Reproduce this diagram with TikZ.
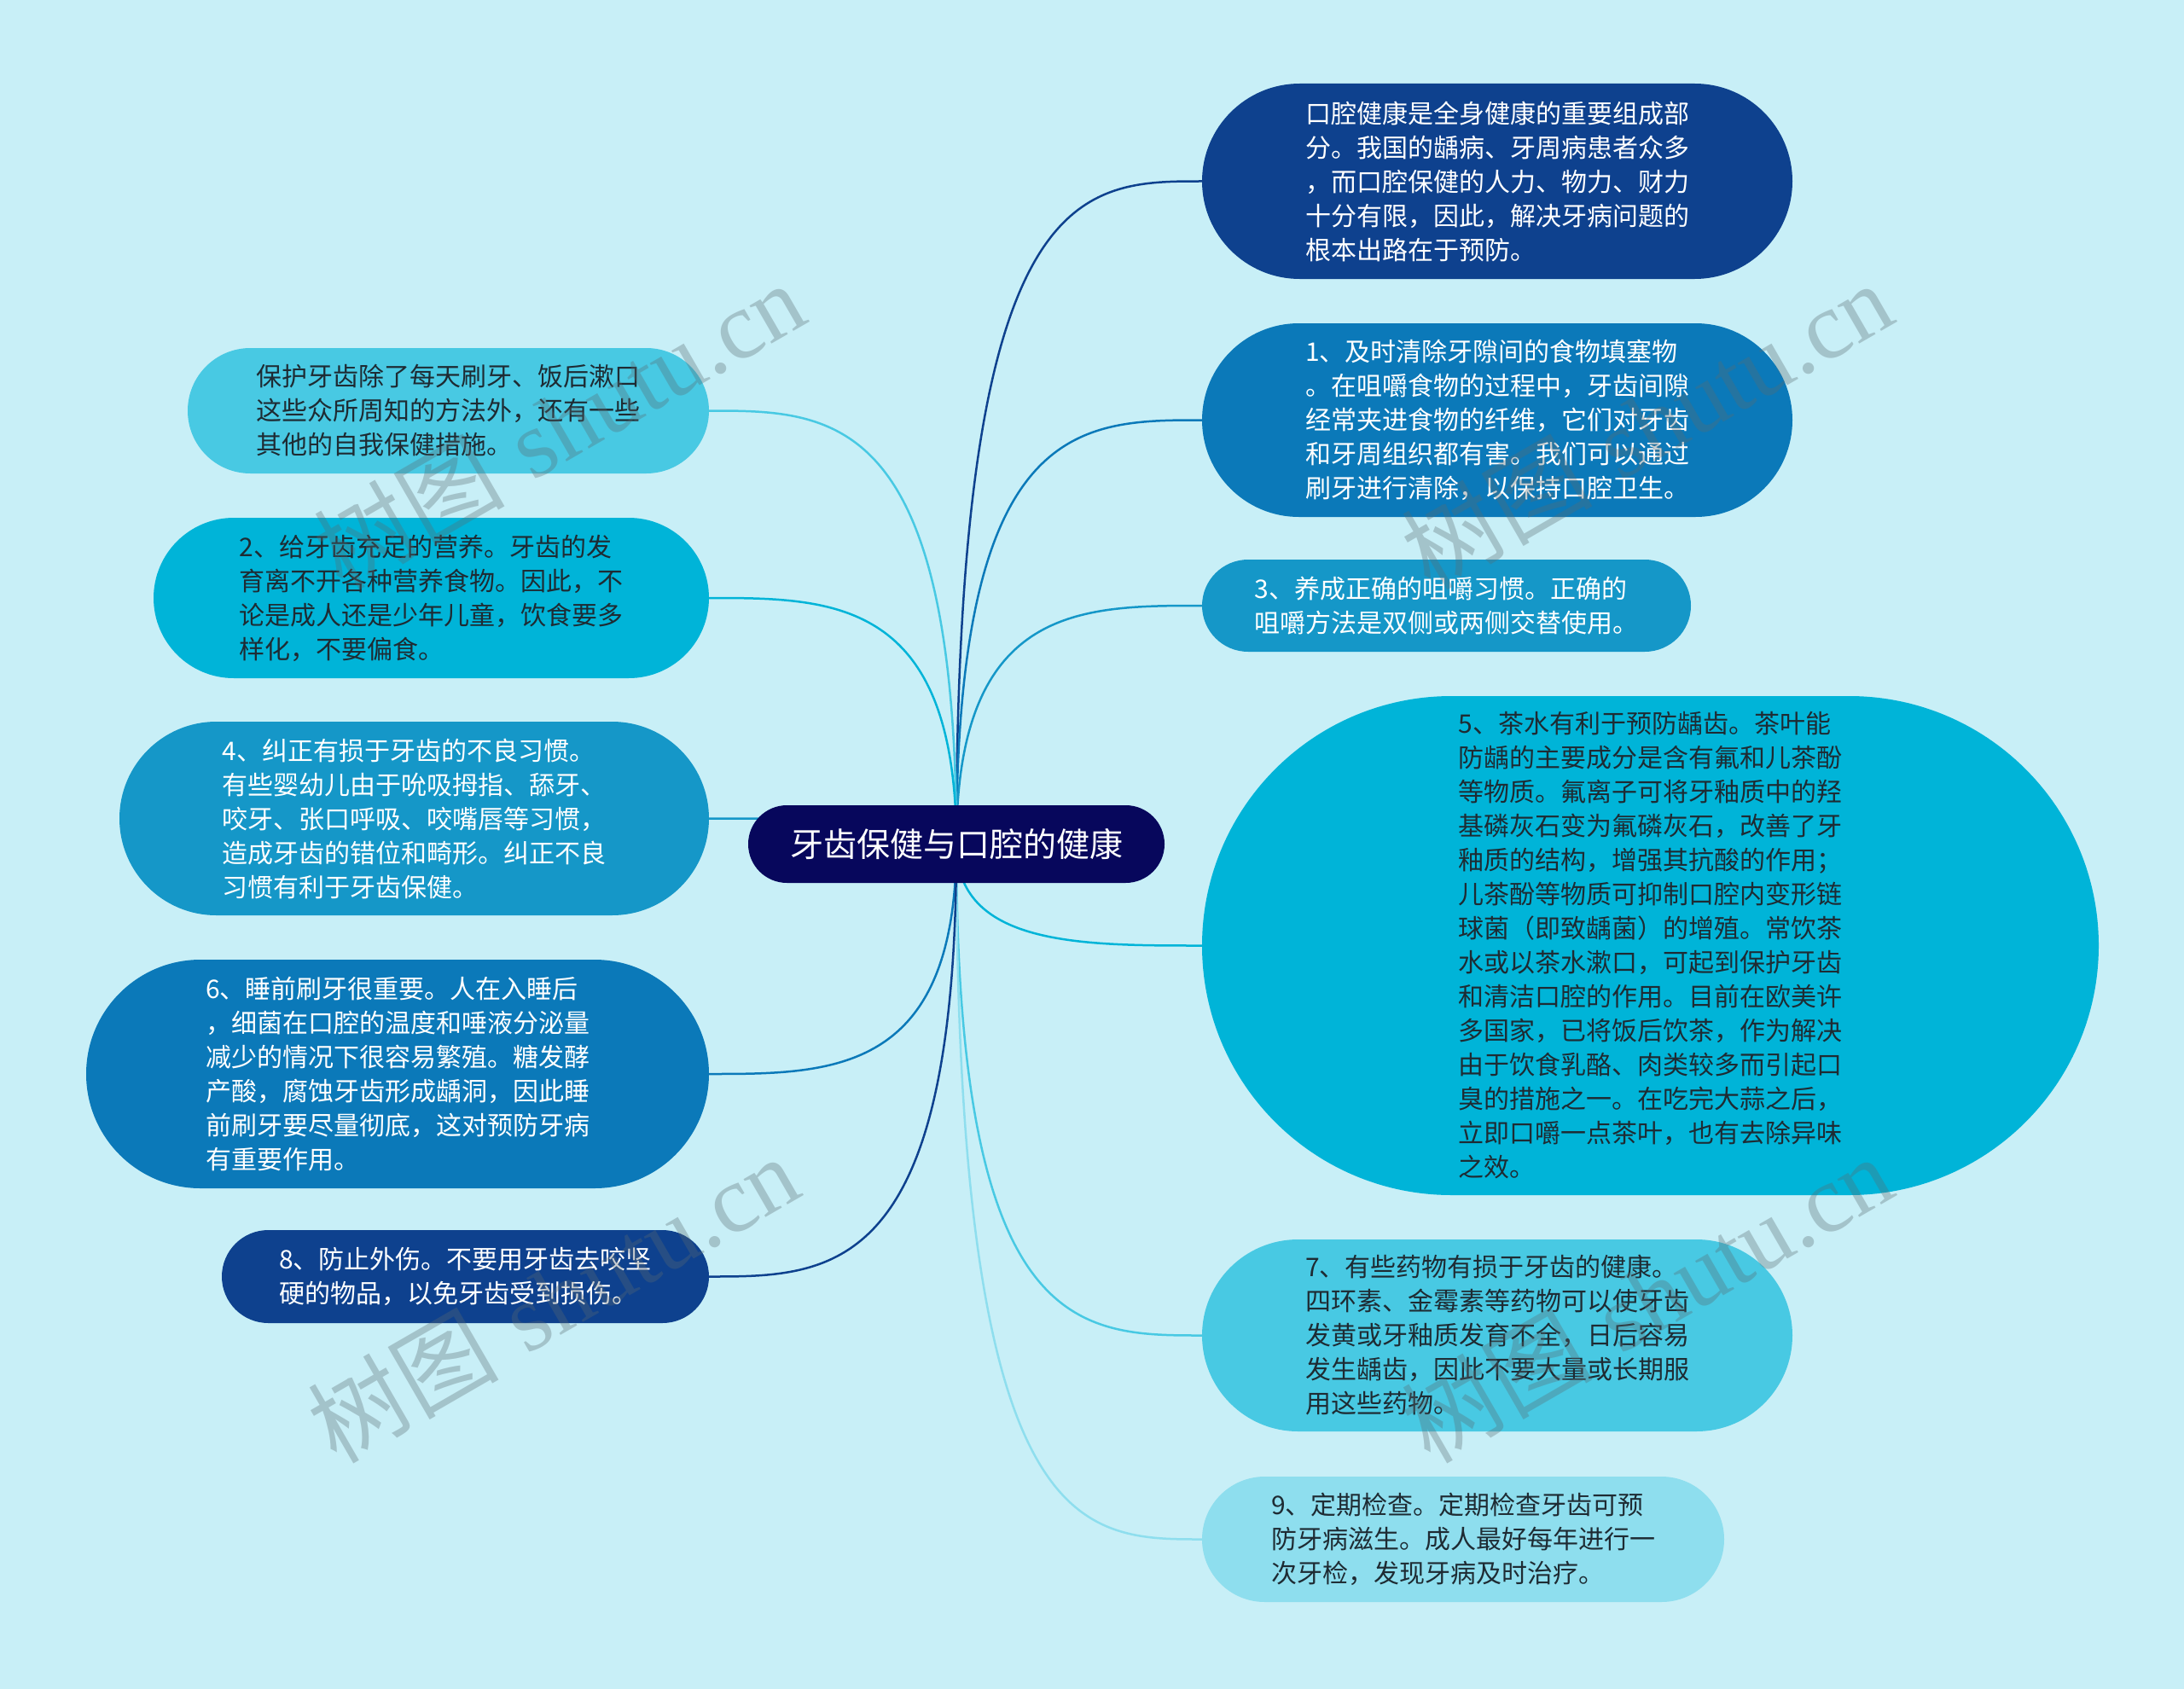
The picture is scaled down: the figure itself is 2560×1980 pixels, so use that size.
\documentclass[tikz,border=0pt]{standalone}
\usepackage{fontspec}
\newfontfamily\cjk{Noto Sans CJK SC}
\newfontfamily\wmserif{Liberation Serif}
\usetikzlibrary{calc,backgrounds}
\definecolor{bgc}{HTML}{C8EFF7}
\definecolor{cc}{HTML}{07075C}
\definecolor{b1}{HTML}{0E418E}
\definecolor{b2}{HTML}{0B79B9}
\definecolor{b3}{HTML}{1597C8}
\definecolor{b4}{HTML}{00B4D8}
\definecolor{b5}{HTML}{48C9E3}
\definecolor{b6}{HTML}{8EDEEE}
\definecolor{dk}{HTML}{1E2B33}
\definecolor{wmc}{HTML}{5A6A70}
\begin{document}
\begin{tikzpicture}[x=1pt,y=-1pt,
  box/.style={rectangle, inner sep=0pt, align=left, font=\cjk\fontsize{30}{40}\selectfont},
  edge/.style={line width=2.5pt},
  wm/.style={font=\fontsize{112}{112}\selectfont, text=wmc, text opacity=0.33, rotate=30, inner sep=0pt}]
\useasboundingbox (0,0) rectangle (2560,1980);
% centre
\node[box, fill=cc, text=white, minimum width=488pt, minimum height=91pt, rounded corners=45.5pt, font=\cjk\fontsize{39}{48}\selectfont] (c) at (1121,989.5) {牙齿保健与口腔的健康};
% right
\node[box, fill=b1, text=white, minimum width=692pt, minimum height=229pt, rounded corners=114.5pt] (r1) at (1755,212.5) {口腔健康是全身健康的重要组成部\\分。我国的龋病、牙周病患者众多\\，而口腔保健的人力、物力、财力\\十分有限，因此，解决牙病问题的\\根本出路在于预防。};
\node[box, fill=b2, text=white, minimum width=692pt, minimum height=227pt, rounded corners=113.5pt] (r2) at (1755,492.5) {1、及时清除牙隙间的食物填塞物\\。在咀嚼食物的过程中，牙齿间隙\\经常夹进食物的纤维，它们对牙齿\\和牙周组织都有害。我们可以通过\\刷牙进行清除，以保持口腔卫生。};
\node[box, fill=b3, text=white, minimum width=573pt, minimum height=108pt, rounded corners=54pt] (r3) at (1695.5,710) {3、养成正确的咀嚼习惯。正确的\\咀嚼方法是双侧或两侧交替使用。};
\node[box, fill=b4, text=dk, minimum width=1051pt, minimum height=585pt, rounded corners=292.5pt] (r4) at (1934.5,1108.5) {5、茶水有利于预防龋齿。茶叶能\\防龋的主要成分是含有氟和儿茶酚\\等物质。氟离子可将牙釉质中的羟\\基磷灰石变为氟磷灰石，改善了牙\\釉质的结构，增强其抗酸的作用；\\儿茶酚等物质可抑制口腔内变形链\\球菌（即致龋菌）的增殖。常饮茶\\水或以茶水漱口，可起到保护牙齿\\和清洁口腔的作用。目前在欧美许\\多国家，已将饭后饮茶，作为解决\\由于饮食乳酪、肉类较多而引起口\\臭的措施之一。在吃完大蒜之后，\\立即口嚼一点茶叶，也有去除异味\\之效。};
\node[box, fill=b5, text=dk, minimum width=692pt, minimum height=225pt, rounded corners=112.5pt] (r5) at (1755,1565.5) {7、有些药物有损于牙齿的健康。\\四环素、金霉素等药物可以使牙齿\\发黄或牙釉质发育不全，日后容易\\发生龋齿，因此不要大量或长期服\\用这些药物。};
\node[box, fill=b6, text=dk, minimum width=612pt, minimum height=147pt, rounded corners=73.5pt] (r6) at (1715,1804.5) {9、定期检查。定期检查牙齿可预\\防牙病滋生。成人最好每年进行一\\次牙检，发现牙病及时治疗。};
% left
\node[box, fill=b5, text=dk, minimum width=611pt, minimum height=147pt, rounded corners=73.5pt] (l1) at (525.5,481.5) {保护牙齿除了每天刷牙、饭后漱口\\这些众所周知的方法外，还有一些\\其他的自我保健措施。};
\node[box, fill=b4, text=dk, minimum width=651pt, minimum height=188pt, rounded corners=94pt] (l2) at (505.5,701) {2、给牙齿充足的营养。牙齿的发\\育离不开各种营养食物。因此，不\\论是成人还是少年儿童，饮食要多\\样化，不要偏食。};
\node[box, fill=b3, text=white, minimum width=691pt, minimum height=227pt, rounded corners=113.5pt] (l3) at (485.5,959.5) {4、纠正有损于牙齿的不良习惯。\\有些婴幼儿由于吮吸拇指、舔牙、\\咬牙、张口呼吸、咬嘴唇等习惯，\\造成牙齿的错位和畸形。纠正不良\\习惯有利于牙齿保健。};
\node[box, fill=b2, text=white, minimum width=730pt, minimum height=268pt, rounded corners=134pt] (l4) at (466,1259) {6、睡前刷牙很重要。人在入睡后\\，细菌在口腔的温度和唾液分泌量\\减少的情况下很容易繁殖。糖发酵\\产酸，腐蚀牙齿形成龋洞，因此睡\\前刷牙要尽量彻底，这对预防牙病\\有重要作用。};
\node[box, fill=b1, text=white, minimum width=571pt, minimum height=109pt, rounded corners=54.5pt] (l5) at (545.5,1496.5) {8、防止外伤。不要用牙齿去咬坚\\硬的物品，以免牙齿受到损伤。};
% watermarks
\node[wm] (w1) at (655,498) {{\cjk 树图} {\wmserif shutu.cn}};
\node[wm] (w2) at (1930,498) {{\cjk 树图} {\wmserif shutu.cn}};
\node[wm] (w3) at (648,1522) {{\cjk 树图} {\wmserif shutu.cn}};
\node[wm] (w4) at (1930,1522) {{\cjk 树图} {\wmserif shutu.cn}};
\begin{pgfonlayer}{background}
\fill[bgc] (0,0) rectangle (2560,1980);
\foreach \n/\col in {r1/b1,r2/b2,r3/b3,r4/b4,r5/b5,r6/b6}
  \draw[edge,\col] (c.center) .. controls (c.center |- \n.west) and ($(c.center |- \n.west)!0.5!(\n.west)$) .. (\n.west);
\foreach \n/\col in {l1/b5,l2/b4,l3/b3,l4/b2,l5/b1}
  \draw[edge,\col] (c.center) .. controls (c.center |- \n.east) and ($(c.center |- \n.east)!0.5!(\n.east)$) .. (\n.east);
\end{pgfonlayer}
\end{tikzpicture}
\end{document}
